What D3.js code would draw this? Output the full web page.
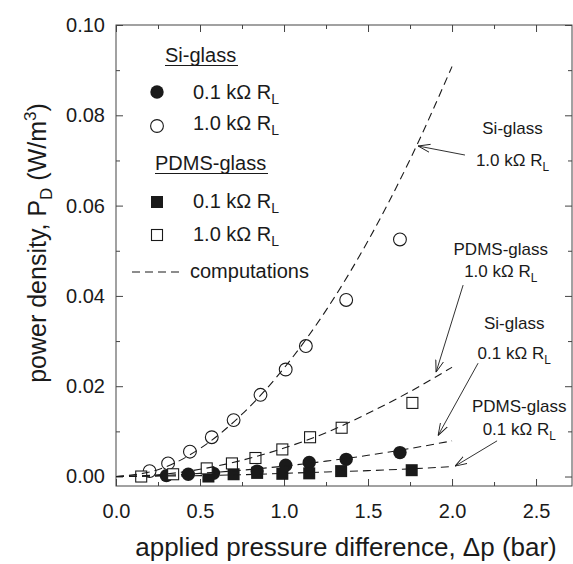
<!DOCTYPE html>
<html>
<head>
<meta charset="utf-8">
<script src="https://cdn.jsdelivr.net/npm/d3@7"></script>
<style>
  body { margin: 0; background: #fff; }
  svg text { font-family: "Liberation Sans", Arial, sans-serif; fill: #1a1a1a; }
</style>
</head>
<body>
<svg id="svg"></svg>
<script>
const siGlass01X = [0.30, 0.43, 0.58, 0.84, 1.01, 1.15, 1.37, 1.69];
const siGlass01Y = [0.0002, 0.0005, 0.0007, 0.0012, 0.0025, 0.0031, 0.0038, 0.0053];

const siGlass10X = [0.20, 0.31, 0.44, 0.57, 0.70, 0.86, 1.01, 1.13, 1.37, 1.69];
const siGlass10Y = [0.0012, 0.0029, 0.0055, 0.0087, 0.0125, 0.0181, 0.0237, 0.0289, 0.0391, 0.0525];

const pdms01X = [0.55, 0.70, 0.84, 0.99, 1.15, 1.34, 1.76];
const pdms01Y = [0.0000, 0.0005, 0.0008, 0.0006, 0.0007, 0.0012, 0.0014];

const pdms10X = [0.15, 0.34, 0.54, 0.69, 0.83, 0.99, 1.155, 1.343, 1.764];
const pdms10Y = [0.0000, 0.0005, 0.0018, 0.0029, 0.0041, 0.0060, 0.0087, 0.0108, 0.0163];

// computed curves (dashed), read at these x positions
const compX = [0, 0.25, 0.5, 0.75, 1.0, 1.25, 1.5, 1.75, 2.0];
const compSi10 = [0, 0.0015, 0.0062, 0.0138, 0.0240, 0.0368, 0.0522, 0.0702, 0.0908];
const compPdms10 = [0, 0.0004, 0.0016, 0.0036, 0.0063, 0.0097, 0.0140, 0.0188, 0.0242];
const compSi01 = [0, 0.0002, 0.0007, 0.0014, 0.0023, 0.0034, 0.0047, 0.0062, 0.0079];
const compPdms01 = [0, 0.0001, 0.0002, 0.0004, 0.0007, 0.0010, 0.0013, 0.0017, 0.0022];

// tick values
const xMajorTicks = [0, 0.5, 1.0, 1.5, 2.0, 2.5];
const xMinorTicks = [0.25, 0.75, 1.25, 1.75, 2.25];
const yMajorTicks = [0, 0.02, 0.04, 0.06, 0.08, 0.10];
const yMinorTicks = [0.01, 0.03, 0.05, 0.07, 0.09];

// annotations: label lines, label centre, arrow start -> tip (data units)
const annoTitles = ["Si-glass", "PDMS-glass", "Si-glass", "PDMS-glass"];
const annoLoads = ["1.0", "1.0", "0.1", "0.1"];
const annoLabelX = [2.36, 2.29, 2.37, 2.40];
const annoTitleY = [0.0759, 0.0490, 0.0327, 0.0143];
const annoLoadY = [0.0688, 0.0442, 0.0260, 0.0093];
const arrowFrom = [[2.077, 0.0712], [2.066, 0.0424], [2.155, 0.0251], [2.268, 0.0079]];
const arrowTo = [[1.798, 0.0732], [1.905, 0.0231], [1.917, 0.0091], [2.018, 0.0023]];

const width = 573;
const height = 564;
const margin = { top: 25, right: 1, bottom: 78, left: 116 };

let svg = d3.select("#svg").attr("width", width).attr("height", height);

const xScale = d3.scaleLinear()
    .domain([0, 2.714])
    .range([margin.left, width - margin.right]);

const yScale = d3.scaleLinear()
    .domain([-0.0021, 0.10])
    .range([height - margin.bottom, margin.top]);

const ink = "#1a1a1a";
const axisInk = "#444";

function zip(xs, ys) {
    return xs.map((x, i) => ({ x: x, y: ys[i] }));
}

// frame
svg.append("rect")
    .attr("x", xScale.range()[0])
    .attr("y", yScale.range()[1])
    .attr("width", xScale.range()[1] - xScale.range()[0])
    .attr("height", yScale.range()[0] - yScale.range()[1])
    .attr("fill", "none")
    .attr("stroke", axisInk);

function styleAxis(g) {
    g.select(".domain").remove();
    g.selectAll("line").attr("stroke", axisInk);
    g.selectAll("text").attr("fill", ink).style("font-size", "20px");
}

// major + minor ticks on all four sides, pointing inward
const bottomY = yScale.range()[0];
const topY = yScale.range()[1];
const leftX = xScale.range()[0];
const rightX = xScale.range()[1];

svg.append("g")
    .attr("transform", `translate(0,${bottomY})`)
    .call(d3.axisBottom(xScale).tickValues(xMajorTicks).tickSize(-7).tickPadding(18).tickFormat(d3.format(".1f")))
    .call(styleAxis);
svg.append("g")
    .attr("transform", `translate(0,${bottomY})`)
    .call(d3.axisBottom(xScale).tickValues(xMinorTicks).tickSize(-4).tickFormat(""))
    .call(styleAxis);
svg.append("g")
    .attr("transform", `translate(0,${topY})`)
    .call(d3.axisTop(xScale).tickValues(xMajorTicks).tickSize(-7).tickFormat(""))
    .call(styleAxis);
svg.append("g")
    .attr("transform", `translate(0,${topY})`)
    .call(d3.axisTop(xScale).tickValues(xMinorTicks).tickSize(-4).tickFormat(""))
    .call(styleAxis);

svg.append("g")
    .attr("transform", `translate(${leftX},0)`)
    .call(d3.axisLeft(yScale).tickValues(yMajorTicks).tickSize(-7).tickPadding(11).tickFormat(d3.format(".2f")))
    .call(styleAxis);
svg.append("g")
    .attr("transform", `translate(${leftX},0)`)
    .call(d3.axisLeft(yScale).tickValues(yMinorTicks).tickSize(-4).tickFormat(""))
    .call(styleAxis);
svg.append("g")
    .attr("transform", `translate(${rightX},0)`)
    .call(d3.axisRight(yScale).tickValues(yMajorTicks).tickSize(-7).tickFormat(""))
    .call(styleAxis);
svg.append("g")
    .attr("transform", `translate(${rightX},0)`)
    .call(d3.axisRight(yScale).tickValues(yMinorTicks).tickSize(-4).tickFormat(""))
    .call(styleAxis);

// axis titles
svg.append("text")
    .attr("x", 346)
    .attr("y", 556)
    .attr("text-anchor", "middle")
    .style("font-size", "26px")
    .text("applied pressure difference, \u0394p (bar)");

let yTitle = svg.append("text")
    .attr("transform", "translate(46,243) rotate(-90)")
    .attr("text-anchor", "middle")
    .style("font-size", "25px");
yTitle.append("tspan").text("power density, P");
yTitle.append("tspan").attr("dy", 6).style("font-size", "17px").text("D");
yTitle.append("tspan").attr("dy", -6).text(" (W/m");
yTitle.append("tspan").attr("dy", -10).style("font-size", "17px").text("3");
yTitle.append("tspan").attr("dy", 10).text(")");

// markers
const plot = svg.append("g");
const r = 6.7;
const sq = 12;

plot.selectAll(".si01")
    .data(zip(siGlass01X, siGlass01Y))
    .join("circle")
    .attr("class", "si01")
    .attr("cx", d => xScale(d.x))
    .attr("cy", d => yScale(d.y))
    .attr("r", r)
    .attr("fill", ink);

plot.selectAll(".pdms01")
    .data(zip(pdms01X, pdms01Y))
    .join("rect")
    .attr("class", "pdms01")
    .attr("x", d => xScale(d.x) - sq / 2)
    .attr("y", d => yScale(d.y) - sq / 2)
    .attr("width", sq)
    .attr("height", sq)
    .attr("fill", ink);

plot.selectAll(".si10")
    .data(zip(siGlass10X, siGlass10Y))
    .join("circle")
    .attr("class", "si10")
    .attr("cx", d => xScale(d.x))
    .attr("cy", d => yScale(d.y))
    .attr("r", r - 0.3)
    .attr("fill", "#fff")
    .attr("stroke", ink)
    .attr("stroke-width", 1.1);

plot.selectAll(".pdms10")
    .data(zip(pdms10X, pdms10Y))
    .join("rect")
    .attr("class", "pdms10")
    .attr("x", d => xScale(d.x) - (sq - 1) / 2)
    .attr("y", d => yScale(d.y) - (sq - 1) / 2)
    .attr("width", sq - 1)
    .attr("height", sq - 1)
    .attr("fill", "#fff")
    .attr("stroke", ink)
    .attr("stroke-width", 1.1);

// computed curves on top
const line = d3.line()
    .x(d => xScale(d.x))
    .y(d => yScale(d.y))
    .curve(d3.curveMonotoneX);

[compSi10, compPdms10, compSi01, compPdms01].forEach(ys => {
    plot.append("path")
        .datum(zip(compX, ys))
        .attr("d", line)
        .attr("fill", "none")
        .attr("stroke", ink)
        .attr("stroke-width", 1.1)
        .attr("stroke-dasharray", "8,5");
});

// annotations with open arrow heads
svg.append("defs").append("marker")
    .attr("id", "arrow")
    .attr("viewBox", "0 0 12 10")
    .attr("refX", 12)
    .attr("refY", 5)
    .attr("markerWidth", 12)
    .attr("markerHeight", 10)
    .attr("markerUnits", "userSpaceOnUse")
    .attr("orient", "auto")
    .append("path")
    .attr("d", "M0,1 L12,5 L0,9")
    .attr("fill", "none")
    .attr("stroke", ink)
    .attr("stroke-width", 0.9);

function loadLabel(sel, value, size) {
    sel.append("tspan").text(value + " k\u03A9 R");
    sel.append("tspan").attr("dy", 5).style("font-size", (size * 0.7) + "px").text("L");
}

annoTitles.forEach((title, i) => {
    svg.append("line")
        .attr("x1", xScale(arrowFrom[i][0]))
        .attr("y1", yScale(arrowFrom[i][1]))
        .attr("x2", xScale(arrowTo[i][0]))
        .attr("y2", yScale(arrowTo[i][1]))
        .attr("stroke", ink)
        .attr("stroke-width", 0.9)
        .attr("marker-end", "url(#arrow)");

    svg.append("text")
        .attr("x", xScale(annoLabelX[i]))
        .attr("y", yScale(annoTitleY[i]))
        .attr("text-anchor", "middle")
        .style("font-size", "17px")
        .text(title);

    svg.append("text")
        .attr("x", xScale(annoLabelX[i]))
        .attr("y", yScale(annoLoadY[i]))
        .attr("text-anchor", "middle")
        .style("font-size", "17px")
        .call(loadLabel, annoLoads[i], 17);
});

// legend
const legend = svg.append("g");
const legendFont = 20;

function legendHeader(text, x, y, w) {
    legend.append("text")
        .attr("x", x).attr("y", y)
        .style("font-size", legendFont + "px")
        .text(text);
    legend.append("line")
        .attr("x1", x).attr("x2", x + w)
        .attr("y1", y + 3.5).attr("y2", y + 3.5)
        .attr("stroke", ink).attr("stroke-width", 1.2);
}

function legendRow(y, value) {
    legend.append("text")
        .attr("x", 193).attr("y", y + 7)
        .style("font-size", legendFont + "px")
        .call(loadLabel, value, legendFont);
}

legendHeader("Si-glass", 165, 62, 73);
legend.append("circle").attr("cx", 157).attr("cy", 92).attr("r", r).attr("fill", ink);
legendRow(92, "0.1");
legend.append("circle").attr("cx", 157).attr("cy", 126).attr("r", r - 0.3)
    .attr("fill", "#fff").attr("stroke", ink).attr("stroke-width", 1.1);
legendRow(123, "1.0");

legendHeader("PDMS-glass", 155, 170, 113);
legend.append("rect").attr("x", 157 - sq / 2).attr("y", 202 - sq / 2)
    .attr("width", sq).attr("height", sq).attr("fill", ink);
legendRow(201, "0.1");
legend.append("rect").attr("x", 157 - (sq - 1) / 2).attr("y", 235 - (sq - 1) / 2)
    .attr("width", sq - 1).attr("height", sq - 1)
    .attr("fill", "#fff").attr("stroke", ink).attr("stroke-width", 1.1);
legendRow(234, "1.0");

legend.append("line")
    .attr("x1", 132).attr("x2", 179)
    .attr("y1", 272).attr("y2", 272)
    .attr("stroke", ink).attr("stroke-width", 1.1)
    .attr("stroke-dasharray", "8,5");
legend.append("text")
    .attr("x", 190).attr("y", 278)
    .style("font-size", legendFont + "px")
    .text("computations");
</script>
</body>
</html>
